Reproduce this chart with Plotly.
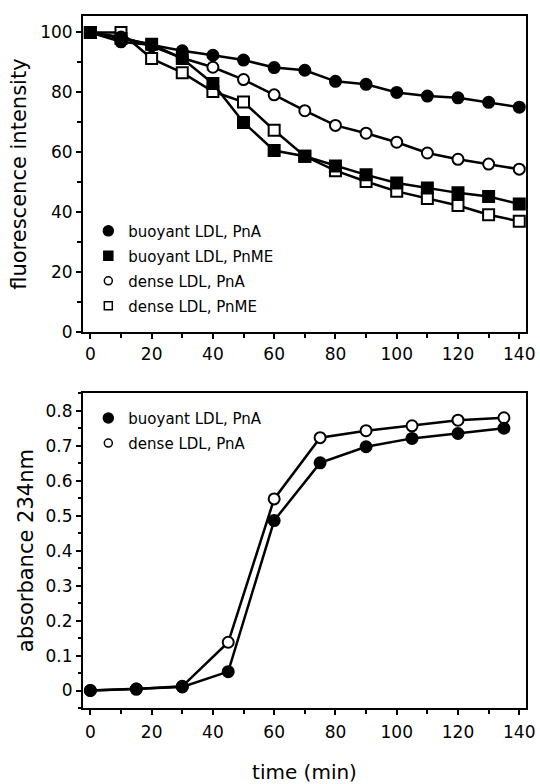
import plotly.graph_objects as go

# ---------------- data ----------------
time_fl = [0, 10, 20, 30, 40, 50, 60, 70, 80, 90, 100, 110, 120, 130, 140]
buoyant_pna_fl = [100, 96.9, 95.8, 93.9, 92.4, 90.8, 88.3, 87.4, 83.7, 82.7, 80.0, 78.8, 78.2, 76.7, 75.1]
buoyant_pnme_fl = [100, 98.0, 96.1, 91.3, 83.0, 70.0, 60.6, 58.7, 55.5, 52.5, 49.8, 48.1, 46.5, 45.3, 42.8]
dense_pna_fl = [100, 98.5, 95.5, 91.5, 88.4, 84.3, 79.2, 73.9, 69.0, 66.4, 63.4, 59.8, 57.7, 56.1, 54.4]
dense_pnme_fl = [100, 100, 91.3, 86.6, 80.3, 76.8, 67.4, 58.7, 53.9, 50.3, 47.0, 44.6, 42.3, 39.2, 37.0]

time_abs = [0, 15, 30, 45, 60, 75, 90, 105, 120, 135]
buoyant_pna_abs = [0.0, 0.004, 0.010, 0.054, 0.486, 0.651, 0.697, 0.721, 0.735, 0.750]
dense_pna_abs = [0.0, 0.004, 0.012, 0.138, 0.548, 0.723, 0.743, 0.757, 0.773, 0.780]

x_ticks = [0, 20, 40, 60, 80, 100, 120, 140]

FONT = "DejaVu Sans"
BLACK = "black"

fig = go.Figure()

def line_trace(x, y, symbol, filled, xa, ya):
    return go.Scatter(
        x=x, y=y, mode="lines+markers", xaxis=xa, yaxis=ya, showlegend=False,
        line=dict(color=BLACK, width=2.5),
        marker=dict(symbol=symbol, size=11,
                    color=BLACK if filled else "white",
                    line=dict(color=BLACK, width=2)),
        hoverinfo="skip",
    )

def legend_trace(name, symbol, filled, legend, size):
    return go.Scatter(
        x=[None], y=[None], mode="markers", name=name, legend=legend,
        legendgroup=name, showlegend=True,
        marker=dict(symbol=symbol, size=size,
                    color=BLACK if filled else "white",
                    line=dict(color=BLACK, width=1.5)),
    )

# top panel (drawn back to front)
fig.add_trace(line_trace(time_fl, dense_pnme_fl, "square", False, "x", "y"))
fig.add_trace(line_trace(time_fl, dense_pna_fl, "circle", False, "x", "y"))
fig.add_trace(line_trace(time_fl, buoyant_pnme_fl, "square", True, "x", "y"))
fig.add_trace(line_trace(time_fl, buoyant_pna_fl, "circle", True, "x", "y"))

# bottom panel
fig.add_trace(line_trace(time_abs, dense_pna_abs, "circle", False, "x2", "y2"))
fig.add_trace(line_trace(time_abs, buoyant_pna_abs, "circle", True, "x2", "y2"))

# legends
fig.add_trace(legend_trace("buoyant LDL, PnA", "circle", True, "legend", 10))
fig.add_trace(legend_trace("buoyant LDL, PnME", "square", True, "legend", 9))
fig.add_trace(legend_trace("dense LDL, PnA", "circle", False, "legend", 8))
fig.add_trace(legend_trace("dense LDL, PnME", "square", False, "legend", 8))
fig.add_trace(legend_trace("buoyant LDL, PnA ", "circle", True, "legend2", 10))
fig.add_trace(legend_trace("dense LDL, PnA ", "circle", False, "legend2", 8))

axis_common = dict(
    showline=True, linewidth=2, linecolor=BLACK, mirror=True,
    showgrid=False, zeroline=False, automargin=False,
    ticks="outside", ticklen=5, tickwidth=1.5, tickcolor=BLACK,
    tickfont=dict(family=FONT, size=17, color=BLACK),
)

legend_common = dict(
    bgcolor="rgba(0,0,0,0)", borderwidth=0,
    font=dict(family=FONT, size=15, color=BLACK),
    xanchor="left", yanchor="top", tracegroupgap=2.5,
    itemsizing="trace",
)

minor_x = dict(dtick=10, tick0=0, ticks="outside", ticklen=4,
               tickwidth=1.5, tickcolor=BLACK)

fig.update_layout(
    width=540, height=784,
    margin=dict(l=83, r=14, t=16, b=76, autoexpand=False),
    paper_bgcolor="white", plot_bgcolor="white",
    font=dict(family=FONT, color=BLACK),
    xaxis=dict(domain=[0, 1], anchor="y", range=[-2.4, 142.2],
               tickvals=x_ticks, minor=minor_x, **axis_common),
    yaxis=dict(domain=[0.543, 1.0], anchor="x", range=[0, 105.5],
               dtick=20, tick0=0,
               minor=dict(dtick=10, tick0=0, ticks="outside", ticklen=4,
                          tickwidth=1.5, tickcolor=BLACK),
               title=dict(text="fluorescence intensity", standoff=8,
                          font=dict(family=FONT, size=21, color=BLACK)),
               **axis_common),
    xaxis2=dict(domain=[0, 1], anchor="y2", range=[-2.4, 142.2],
                tickvals=x_ticks, minor=minor_x, ticklabelstandoff=3,
                title=dict(text="time (min)", standoff=27,
                           font=dict(family=FONT, size=20, color=BLACK)),
                **axis_common),
    yaxis2=dict(domain=[0, 0.4548], anchor="x2", range=[-0.05, 0.85],
                dtick=0.1, tick0=0,
                minor=dict(dtick=0.05, tick0=0, ticks="outside", ticklen=3,
                           tickwidth=1.5, tickcolor=BLACK),
                title=dict(text="absorbance 234nm", standoff=6,
                           font=dict(family=FONT, size=21, color=BLACK)),
                **axis_common),
    legend=dict(x=0.012, y=0.7130, **legend_common),
    legend2=dict(x=0.012, y=0.4425, **legend_common),
)

fig.write_html("out.html")
